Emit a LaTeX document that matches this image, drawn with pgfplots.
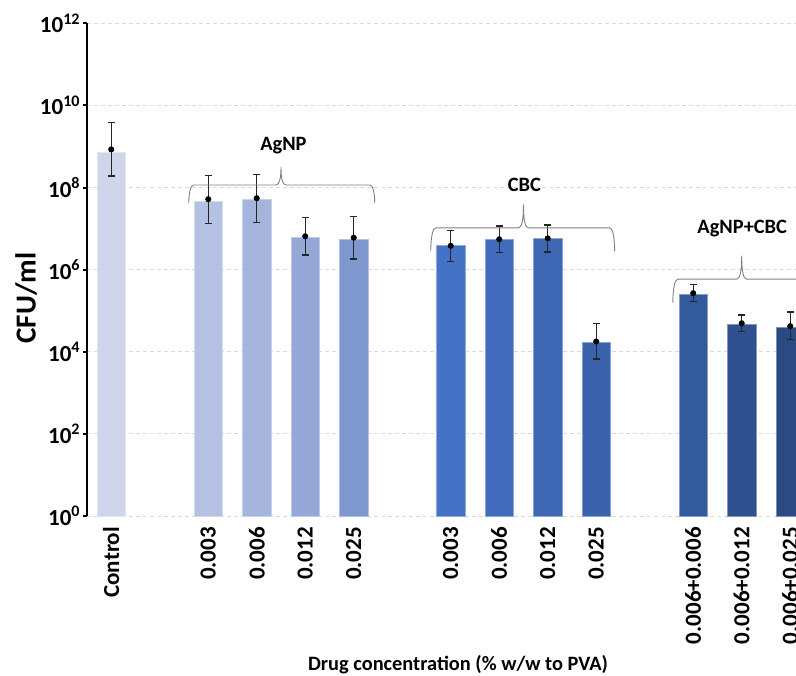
\documentclass[border=0pt]{standalone}
\usepackage{fontspec}
\setmainfont{Carlito}
\usepackage{pgfplots}
\pgfplotsset{compat=1.18}
\usepackage{pgfplotstable}
\usetikzlibrary{calc}

\definecolor{c0}{HTML}{CFD5EA}
\definecolor{a1}{HTML}{B4C1E3}
\definecolor{a2}{HTML}{A5B4DD}
\definecolor{a3}{HTML}{95A7D7}
\definecolor{a4}{HTML}{7F97CF}
\definecolor{b1}{HTML}{4472C4}
\definecolor{b2}{HTML}{416CBC}
\definecolor{b3}{HTML}{3E67B4}
\definecolor{b4}{HTML}{3B62AD}
\definecolor{d1}{HTML}{335A9D}
\definecolor{d2}{HTML}{2F5190}
\definecolor{d3}{HTML}{2B4A83}

\newcommand\tlfont{\bfseries\fontsize{11.5}{13}\selectfont}

% x = slot position, bar = bar height, dot = mean marker, top/bot = error bar ends
\pgfplotstableread{
x   bar     dot     top     bot
0   7.1e8   8.5e8   3.9e9   1.9e8
2   4.7e7   5.2e7   2.0e8   1.35e7
3   5.25e7  5.5e7   2.1e8   1.42e7
4   6.25e6  6.5e6   1.85e7  2.28e6
5   5.6e6   6.0e6   2.0e7   1.82e6
7   3.8e6   3.8e6   8.9e6   1.57e6
8   5.4e6   5.5e6   1.16e7  2.6e6
9   5.7e6   5.8e6   1.22e7  2.7e6
10  1.65e4  1.78e4  4.8e4   6.7e3
12  2.48e5  2.67e5  4.34e5  1.67e5
13  4.77e4  4.96e4  7.9e4   3.12e4
14  4.03e4  4.2e4   9.35e4  2.03e4
}\datatab

% group brace between named coordinates: #1 left end, #2 right end, #3 centre (at end height), #4 half height
\newcommand\gbrace[4]{%
  \draw[black!50, line width=0.45pt]
    (#1) .. controls +(0,0.6*#4) and +(-1.5pt,0) .. ($(#1)+(2.5pt,#4)$)
    -- ($(#3)+(-2.5pt,#4)$)
    .. controls +(1.8pt,0) and +(0,-0.6*#4) .. ($(#3)+(0pt,2*#4)$)
    .. controls +(0,-0.6*#4) and +(-1.8pt,0) .. ($(#3)+(2.5pt,#4)$)
    -- ($(#2)+(-2.5pt,#4)$)
    .. controls +(1.5pt,0) and +(0,0.6*#4) .. (#2);
}

\begin{document}
\begin{tikzpicture}
\clip (-43.5pt,-79.5pt) rectangle (354.5pt,258pt);
\begin{axis}[
  scale only axis, width=371pt, height=246.35pt,
  xmin=-0.5, xmax=14.8,
  ymode=log, log basis y=10, ymin=1, ymax=1e12,
  axis x line*=bottom, axis y line*=left,
  x axis line style={draw=none},
  y axis line style={line width=1pt, black, -},
  tick align=outside, major tick length=2pt,
  ytick={1,1e2,1e4,1e6,1e8,1e10,1e12},
  yticklabels={10\textsuperscript{0},10\textsuperscript{2},10\textsuperscript{4},10\textsuperscript{6},10\textsuperscript{8},10\textsuperscript{10},10\textsuperscript{12}},
  yminorticks=false,
  y tick style={black, line width=1pt},
  xtick={0,2,3,4,5,7,8,9,10,12,13,14},
  xticklabels={Control,0.003,0.006,0.012,0.025,0.003,0.006,0.012,0.025,0.006+0.006,0.006+0.012,0.006+0.025},
  x tick style={draw=none},
  xticklabel style={rotate=90, anchor=east, font=\tlfont},
  yticklabel style={font=\tlfont, inner sep=1pt},
  ymajorgrids,
  y grid style={black!15, dash pattern=on 2pt off 1.5pt, line width=0.5pt},
  xlabel={Drug concentration (\% w/w to PVA)},
  xlabel style={font=\bfseries\fontsize{10.2}{12}\selectfont, at={(axis description cs:0.5,-0.3126)}, anchor=base},
  ylabel={CFU/ml},
  ylabel style={font=\bfseries\fontsize{14.5}{16}\selectfont, at={(axis description cs:-0.0822,0.4425)}, anchor=center},
  bar width=0.59, bar shift=0pt,
]
\addplot[ybar, bar shift=0pt, fill=c0, draw=c0!60!white, line width=0.4pt] coordinates {(0,7.1e8)};
\addplot[ybar, bar shift=0pt, fill=a1, draw=a1!60!white, line width=0.4pt] coordinates {(2,4.7e7)};
\addplot[ybar, bar shift=0pt, fill=a2, draw=a2!60!white, line width=0.4pt] coordinates {(3,5.25e7)};
\addplot[ybar, bar shift=0pt, fill=a3, draw=a3!60!white, line width=0.4pt] coordinates {(4,6.25e6)};
\addplot[ybar, bar shift=0pt, fill=a4, draw=a4!60!white, line width=0.4pt] coordinates {(5,5.6e6)};
\addplot[ybar, bar shift=0pt, fill=b1, draw=b1!60!white, line width=0.4pt] coordinates {(7,3.8e6)};
\addplot[ybar, bar shift=0pt, fill=b2, draw=b2!60!white, line width=0.4pt] coordinates {(8,5.4e6)};
\addplot[ybar, bar shift=0pt, fill=b3, draw=b3!60!white, line width=0.4pt] coordinates {(9,5.7e6)};
\addplot[ybar, bar shift=0pt, fill=b4, draw=b4!60!white, line width=0.4pt] coordinates {(10,1.65e4)};
\addplot[ybar, bar shift=0pt, fill=d1, draw=d1!60!white, line width=0.4pt] coordinates {(12,2.48e5)};
\addplot[ybar, bar shift=0pt, fill=d2, draw=d2!60!white, line width=0.4pt] coordinates {(13,4.77e4)};
\addplot[ybar, bar shift=0pt, fill=d3, draw=d3!60!white, line width=0.4pt] coordinates {(14,4.03e4)};

\addplot[only marks, mark=*, mark size=1.3pt, black,
  error bars/.cd, y dir=both, y explicit,
  error bar style={line width=0.6pt, black!85},
  error mark options={rotate=90, mark size=1.7pt, line width=0.6pt, black!85}]
  table[x=x, y=dot, y error plus expr={\thisrow{top}-\thisrow{dot}}, y error minus expr={\thisrow{dot}-\thisrow{bot}}] {\datatab};

\coordinate (AL) at (axis cs:1.598,4.2e7);
\coordinate (AR) at (axis cs:5.433,4.2e7);
\coordinate (AC) at (axis cs:3.5,4.2e7);
\coordinate (BL) at (axis cs:6.588,2.8e6);
\coordinate (BR) at (axis cs:10.38,2.8e6);
\coordinate (BC) at (axis cs:8.5,2.8e6);
\coordinate (CL) at (axis cs:11.58,1.58e5);
\coordinate (CR) at (axis cs:14.42,1.58e5);
\coordinate (CC) at (axis cs:13,1.58e5);

\node[font=\bfseries\fontsize{10.2}{12}\selectfont, anchor=base] at (axis cs:3.55,8.0e8) {AgNP};
\node[font=\bfseries\fontsize{10.2}{12}\selectfont, anchor=base] at (axis cs:8.52,8.2e7) {CBC};
\node[font=\bfseries\fontsize{10.2}{12}\selectfont, anchor=base] at (axis cs:13.01,7.7e6) {AgNP+CBC};
\end{axis}
\gbrace{AL}{AR}{AC}{9pt}
\gbrace{BL}{BR}{BC}{11.7pt}
\gbrace{CL}{CR}{CC}{11.7pt}
\end{tikzpicture}
\end{document}
